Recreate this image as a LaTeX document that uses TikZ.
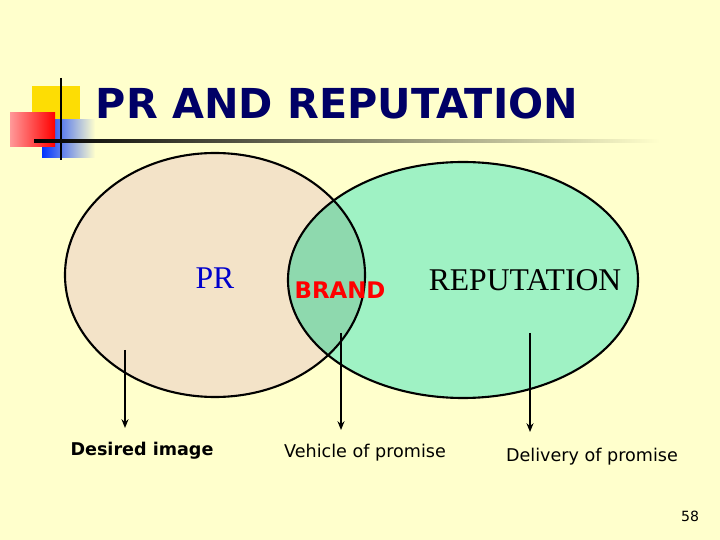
\documentclass[tikz,border=0pt]{standalone}
\usepackage{fontspec}
\setmainfont{Liberation Serif}
\setsansfont{DejaVu Sans}
\usetikzlibrary{arrows.meta}
\definecolor{slidebg}{HTML}{FFFFCC}
\definecolor{titleblue}{HTML}{000066}
\definecolor{prfill}{HTML}{F3E3C8}
\definecolor{repfill}{HTML}{9FF2C4}
\definecolor{brandfill}{HTML}{8ED9AE}
\tikzset{
  label/.style={font=\sffamily\fontsize{10}{12}\selectfont},
  pointer/.style={-{Stealth[length=5pt,width=4pt]},thick}
}
\begin{document}
\begin{tikzpicture}[x=0.02cm,y=-0.02cm]
  \fill[slidebg] (0,0) rectangle (720,540);
  \useasboundingbox (0,0) rectangle (720,540);

  % logo
  \fill[yellow!80!orange] (32,86) rectangle (80,125);
  \shade[left color=blue!80!cyan,right color=slidebg] (42,120) rectangle (95,158);
  \shade[left color=red!40,right color=red] (10,113) rectangle (55,147);
  \draw[thick] (61,78) -- (61,160);
  \shade[left color=black,right color=slidebg] (34,140) rectangle (660,142.5);

  \node[font=\sffamily\bfseries\fontsize{23.5}{27}\selectfont,text=titleblue] (title) at (337,103) {PR AND REPUTATION};

  % circles
  \fill[prfill] (215,275) ellipse [x radius=150,y radius=122];
  \fill[repfill] (463,280) ellipse [x radius=175,y radius=118];
  \begin{scope}
    \clip (215,275) ellipse [x radius=150,y radius=122];
    \fill[brandfill] (463,280) ellipse [x radius=175,y radius=118];
  \end{scope}
  \draw[very thick] (215,275) ellipse [x radius=150,y radius=122];
  \draw[very thick] (463,280) ellipse [x radius=175,y radius=118];

  \node[text=blue!80!black,font=\fontsize{18}{20}\selectfont] (pr) at (215,278) {PR};
  \node[text=red,font=\sffamily\bfseries\fontsize{13}{16}\selectfont] (brand) at (340,290) {BRAND};
  \node[font=\fontsize{18}{20}\selectfont] (rep) at (525,280) {REPUTATION};

  \coordinate (p1) at (125,350);
  \coordinate (p2) at (341,333);
  \coordinate (p3) at (530,333);
  \node[label,font=\sffamily\bfseries\fontsize{10}{12}\selectfont] (desired) at (142,451) {Desired image};
  \node[label] (vehicle) at (365,453) {Vehicle of promise};
  \node[label] (delivery) at (592,457) {Delivery of promise};
  \draw[pointer] (p1) -- (125,428);
  \draw[pointer] (p2) -- (341,430);
  \draw[pointer] (p3) -- (530,432);

  \node[font=\sffamily\fontsize{8}{10}\selectfont] (page) at (690,516) {58};
\end{tikzpicture}
\end{document}
